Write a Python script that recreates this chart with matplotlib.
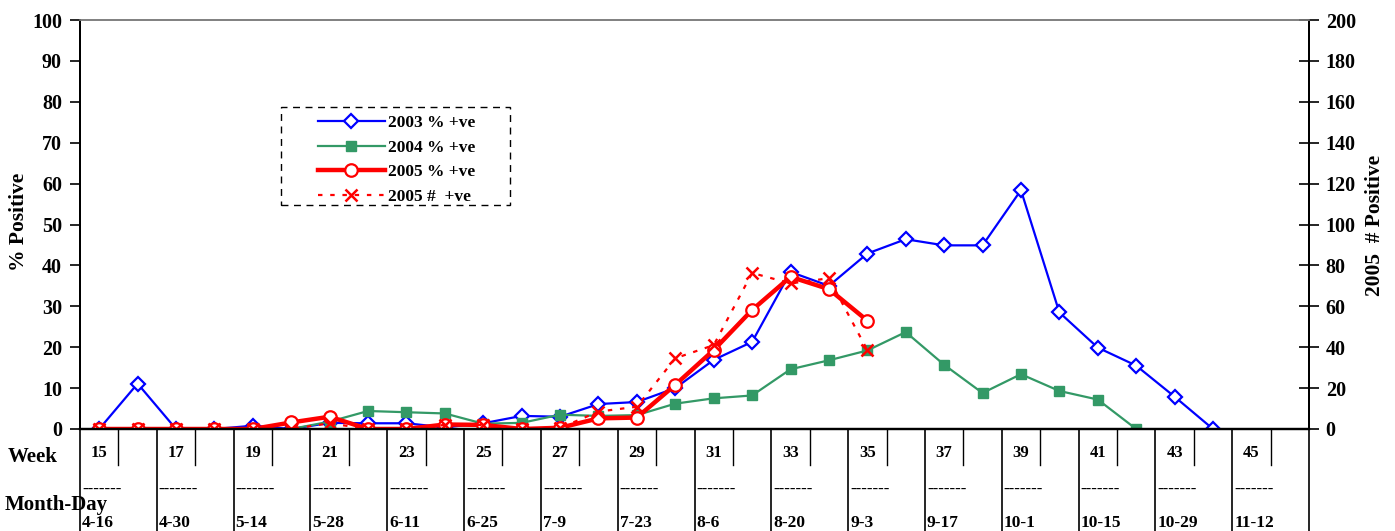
import numpy as np
import matplotlib.pyplot as plt
import matplotlib.transforms as mtransforms
from matplotlib.lines import Line2D
from matplotlib.patches import Rectangle

plt.rcParams['font.family'] = 'Liberation Serif'
plt.rcParams['font.weight'] = 'bold'

W, H = 1395, 531

# data
weeks = list(range(15, 47))
month_day = ['4-16', '4-30', '5-14', '5-28', '6-11', '6-25', '7-9', '7-23',
             '8-6', '8-20', '9-3', '9-17', '10-1', '10-15', '10-29', '11-12']
pct_2003 = [0, 11.1, 0, 0, 0.8, 0, 1.5, 1.4, 1.4, 0.4, 1.4, 3.2, 3.0, 6.1, 6.6,
            10.0, 16.9, 21.3, 38.4, 35.0, 42.9, 46.4, 44.9, 44.9, 58.4, 28.5,
            19.9, 15.5, 7.9, 0]
pct_2004 = [0, 0, 0, 0, 0, 0, 1.8, 4.4, 4.1, 3.8, 1.3, 1.5, 3.5, 3.2, 3.4,
            6.2, 7.5, 8.2, 14.6, 16.8, 19.2, 23.7, 15.7, 8.8, 13.4, 9.3, 7.2, 0]
pct_2005 = [0, 0, 0, 0, 0, 1.6, 3.0, 0, 0, 1.1, 1.0, 0, 0.3, 2.6, 2.8,
            10.8, 19.3, 29.1, 37.2, 34.2, 26.5]
num_2005 = [0, 0, 0, 0, 0, 0, 2.8, 0, 0, 2, 2, 0, 0.5, 8.5, 10.9,
            34.6, 41, 76.3, 71.2, 73.7, 38.6]


def fill(vals):
    return list(vals) + [np.nan] * (len(weeks) - len(vals))


fig = plt.figure(figsize=(W / 100, H / 100), dpi=100)
ax = fig.add_axes([80 / W, 1 - 429 / H, 1229 / W, 409 / H])
ax2 = ax.twinx()
x = np.arange(len(weeks))

blue, green, red = '#0000FF', '#339966', '#FF0000'
ax.plot(x, fill(pct_2003), color=blue, lw=1.6, marker='D', ms=7.5,
        mfc='white', mec=blue, mew=1.6, label='2003 % +ve')
ax.plot(x, fill(pct_2004), color=green, lw=1.6, marker='s', ms=6.5,
        mfc=green, mec=green, label='2004 % +ve')
ax.plot(x, fill(pct_2005), color=red, lw=3.2, marker='o', ms=9,
        mfc='white', mec=red, mew=1.6, label='2005 % +ve')
ax2.plot(x, fill(num_2005), color=red, lw=1.6, ls=(0, (2, 3.5)), marker='x',
         ms=8, mec=red, mew=1.8, label='2005 #  +ve')

ax.set_xlim(-0.5, len(weeks) - 0.5)
ax.set_ylim(0, 100)
ax2.set_ylim(0, 200)
ax.set_yticks(range(0, 101, 10))
ax2.set_yticks(range(0, 201, 20))
ax.set_xticks([])
ax.tick_params(axis='y', direction='out', length=7, width=1.2, pad=6, labelsize=14.5)
ax2.tick_params(axis='y', direction='inout', length=14, width=1.2, pad=5, labelsize=14.5)

for a in (ax, ax2):
    a.spines['top'].set_color('#808080')
    a.spines['top'].set_linewidth(1.2)
    a.spines['left'].set_linewidth(1.4)
    a.spines['right'].set_linewidth(1.4)
    a.spines['bottom'].set_linewidth(1.6)

fig.text(19 / W, 1 - 222 / H, '% Positive', rotation=90, ha='center', va='center', fontsize=15.5)
fig.text(1375 / W, 1 - 225 / H, '2005  # Positive', rotation=90, ha='center', va='center', fontsize=15.5)

# category axis: week level and month-day level
trans = mtransforms.blended_transform_factory(ax.transData, fig.transFigure)
left_off = mtransforms.offset_copy(trans, fig=fig, x=2, y=0, units='dots')
for k in range(len(weeks) + 1):
    xb = k - 0.5
    y_end = 0 if k % 2 == 0 else 1 - 465 / H
    fig.add_artist(Line2D([xb, xb], [1 - 429 / H, y_end], transform=trans,
                          color='black', lw=1.2 if k % 2 == 0 else 1.0))
for i, w in enumerate(weeks):
    if w % 2 == 1:
        fig.text(i, 1 - 453 / H, str(w), transform=trans, ha='center',
                 va='center', fontsize=12)
for j, md in enumerate(month_day):
    xb = 2 * j - 0.5
    fig.text(xb, 1 - 490 / H, '-------', transform=left_off, ha='left',
             va='center', fontsize=12)
    fig.text(xb, 1 - 523 / H, md, transform=left_off, ha='left',
             va='center', fontsize=12.5)
fig.text(8 / W, 1 - 457 / H, 'Week', ha='left', va='center', fontsize=15)
fig.text(5 / W, 1 - 505 / H, 'Month-Day', ha='left', va='center', fontsize=15)

# legend
h1, l1 = ax.get_legend_handles_labels()
h2, l2 = ax2.get_legend_handles_labels()
leg = ax2.legend(h1 + h2, l1 + l2, loc='upper left',
                 bbox_to_anchor=(318 / W, 1 - 115 / H), bbox_transform=fig.transFigure,
                 frameon=False, borderpad=0, borderaxespad=0, handlelength=3.85,
                 handletextpad=0.17, labelspacing=0.49,
                 prop={'size': 12.5, 'weight': 'bold'})
fig.add_artist(Rectangle((281 / W, 1 - 205 / H), 229 / W, 98 / H,
                         transform=fig.transFigure, fill=False, ec='black',
                         lw=1.0, ls=(0, (5, 4))))

fig.savefig('out.png', dpi=100)
